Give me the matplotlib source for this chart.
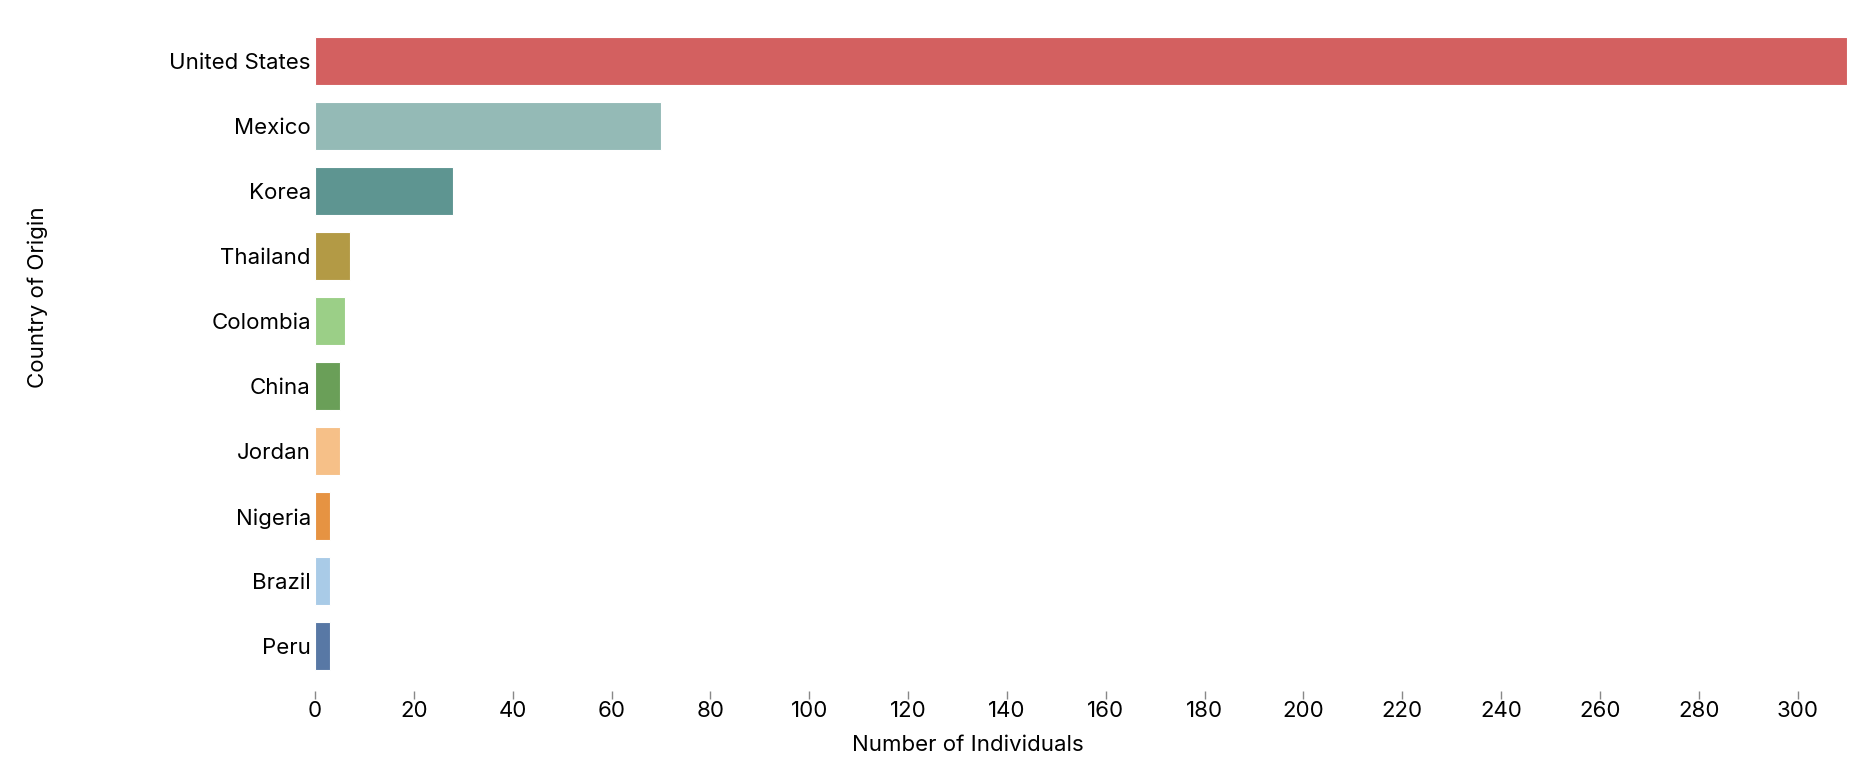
import matplotlib
matplotlib.use("Agg")
import matplotlib.pyplot as plt

countries = ["United States", "Mexico", "Korea", "Thailand", "Colombia",
             "China", "Jordan", "Nigeria", "Brazil", "Peru"]
counts = [310, 70, 28, 7, 6, 5, 5, 3, 3, 3]
colors = ["#d36060", "#94bab6", "#5e9591", "#b39a45", "#9bcf87",
          "#6a9f58", "#f6c088", "#e69342", "#a9cbe7", "#5878a5"]
xticks = list(range(0, 301, 20))

plt.rcParams['font.family'] = ['Inter', 'DejaVu Sans']
FS = 16

W, H = 1866, 766
fig = plt.figure(figsize=(W / 100, H / 100), dpi=100)
left, right, top, bottom = 315, 1847, 28.8, 678.8
ax = fig.add_axes([left / W, 1 - bottom / H, (right - left) / W, (bottom - top) / H])
for s in ax.spines.values():
    s.set_visible(False)
ax.spines['bottom'].set_position(('outward', 9))

ypos = list(range(len(countries)))
ax.barh(ypos, counts, height=0.738, color=colors, edgecolor="white", linewidth=0.8)
ax.set_ylim(len(countries) - 0.5, -0.5)
ax.set_xlim(0, 310)
ax.set_yticks(ypos)
ax.set_yticklabels(countries, fontsize=FS, color="black")
ax.set_xticks(xticks)
ax.set_xticklabels([str(t) for t in xticks], fontsize=FS, color="black")
ax.tick_params(axis='y', length=0, pad=3)
ax.tick_params(axis='x', length=6, width=1, color="#888888", pad=1)

fig.text(968 / W, 1 - 745 / H, "Number of Individuals", fontsize=FS,
         ha="center", va="center", color="black")
fig.text(38 / W, 1 - 297 / H, "Country of Origin", fontsize=FS,
         ha="center", va="center", rotation=90, color="black")

fig.savefig("out.png", dpi=100)
